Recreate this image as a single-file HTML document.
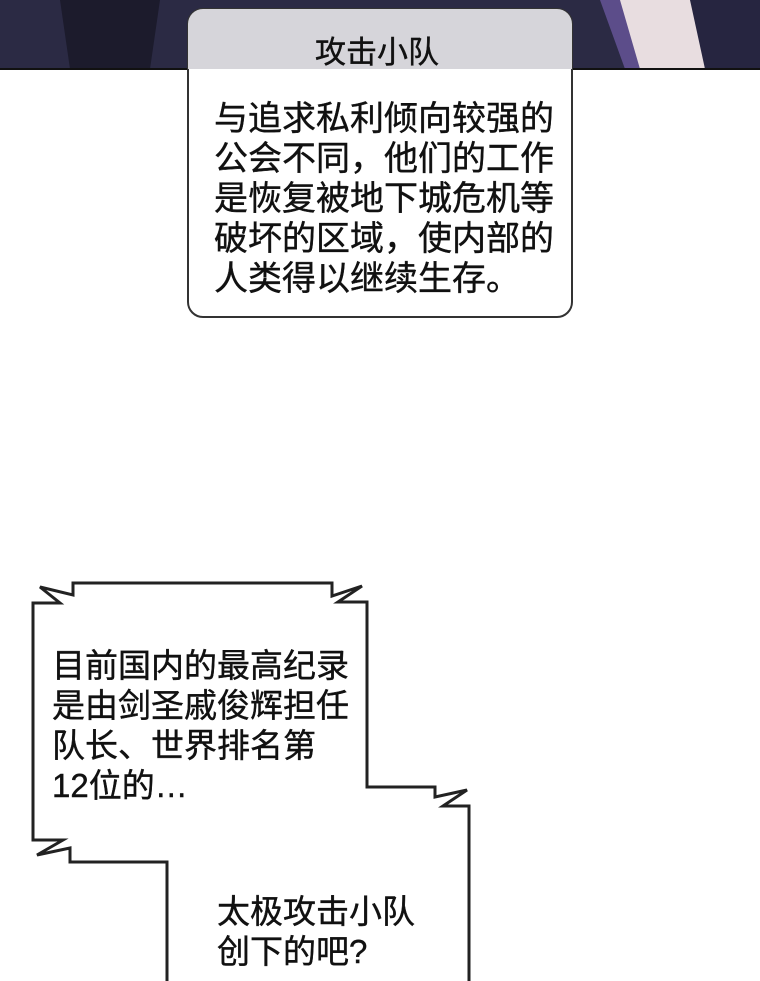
<!DOCTYPE html>
<html><head><meta charset="utf-8"><style>
body{margin:0;width:760px;height:981px;background:#fff;position:relative;overflow:hidden;font-family:"Liberation Sans","Noto Sans CJK SC",sans-serif;}
.t{position:absolute;color:#111;white-space:nowrap;-webkit-text-stroke:0.4px #111;}
</style></head><body>
<svg width="760" height="981" style="position:absolute;left:0;top:0">
<rect x="0" y="0" width="760" height="69" fill="#2b2a44"/>
<polygon points="60,0 160,0 150,69 70,69" fill="#1c1b2c"/>
<polygon points="600,0 640,0 660,69 625,69" fill="#5c4d8a"/>
<polygon points="620,0 700,0 705,69 640,69" fill="#e8dde0"/>
<polygon points="690,0 760,0 760,69 705,69" fill="#262540"/>
<line x1="0" y1="69" x2="760" y2="69" stroke="#111" stroke-width="2"/>
<rect x="188" y="9" width="384" height="308" rx="15" fill="#fff" stroke="#333" stroke-width="2"/>
<path d="M203,9 H557 A15,15 0 0 1 572,24 V69 H188 V24 A15,15 0 0 1 203,9Z" fill="#d6d5da"/>
<path d="M167,981 L167,862 L70,862 L70,848 L37,855 L63,840 L33,840 L33,603 L60,603 L40,587 L73,595 L73,583 L332,583 L332,596 L362,586 L338,602 L367,602 L367,787 L435,787 L435,797 L467,790 L443,806 L469,806 L469,981" fill="#fff" stroke="#222" stroke-width="3" stroke-linejoin="miter"/>
</svg>
<div class="t" style="left:315px;top:27px;font-size:31px;">攻击小队</div>
<div class="t" style="left:214px;top:99px;font-size:34px;line-height:40px;">与追求私利倾向较强的<br>公会不同，他们的工作<br>是恢复被地下城危机等<br>破坏的区域，使内部的<br>人类得以继续生存。</div>
<div class="t" style="left:52px;top:646px;font-size:33px;line-height:40px;">目前国内的最高纪录<br>是由剑圣戚俊辉担任<br>队长、世界排名第<br>12位的…</div>
<div class="t" style="left:217px;top:892px;font-size:33px;line-height:40px;">太极攻击小队<br>创下的吧?</div>
</body></html>
